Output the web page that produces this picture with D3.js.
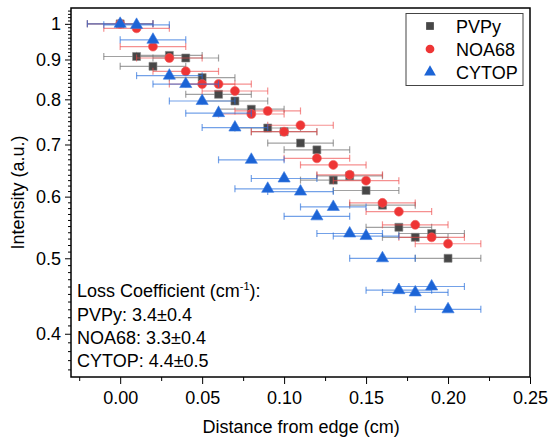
<!DOCTYPE html>
<html>
<head>
<meta charset="utf-8">
<script src="https://cdn.jsdelivr.net/npm/d3@7"></script>
<style>
  body { margin: 0; background: #fff; }
  svg { font-family: "Liberation Sans", Arial, sans-serif; }
</style>
</head>
<body>
<div id="chart"></div>
<script>
// data
var distance = [0, 0.01, 0.02, 0.03, 0.04, 0.05, 0.06, 0.07, 0.08, 0.09, 0.10,
                0.11, 0.12, 0.13, 0.14, 0.15, 0.16, 0.17, 0.18, 0.19, 0.20];
var pvpy  = [1.0, 0.908, 0.882, 0.911, 0.904, 0.853, 0.812, 0.796, 0.777, 0.735, 0.727,
             0.703, 0.689, 0.630, 0.638, 0.611, 0.585, 0.548, 0.532, 0.538, 0.500];
var noa68 = [1.0, 0.987, 0.935, 0.904, 0.869, 0.837, 0.837, 0.820, 0.766, 0.773, 0.727,
             0.741, 0.672, 0.659, 0.640, 0.629, 0.589, 0.574, 0.552, 0.532, 0.522];
var cytop = [1.0, 0.997, 0.954, 0.858, 0.837, 0.796, 0.768, 0.736, 0.669, 0.614, 0.633,
             0.609, 0.566, 0.582, 0.538, 0.534, 0.500, 0.455, 0.452, 0.460, 0.430];
var xErr = 0.02;
var seriesNames = ["PVPy", "NOA68", "CYTOP"];
var xTicks = [0, 0.05, 0.10, 0.15, 0.20, 0.25];
var yTicks = [0.4, 0.5, 0.6, 0.7, 0.8, 0.9, 1];
var lossLines = ["PVPy: 3.4\u00b10.4", "NOA68: 3.3\u00b10.4", "CYTOP: 4.4\u00b10.5"];

var W = 552, H = 446;
var margin = {top: 8, right: 22, bottom: 69, left: 71};
var width = W - margin.left - margin.right;
var height = H - margin.top - margin.bottom;

var svg = d3.select("#chart").append("svg")
    .attr("width", W).attr("height", H);
var g = svg.append("g")
    .attr("transform", "translate(" + margin.left + "," + margin.top + ")");

var x = d3.scaleLinear().domain([-0.03, 0.25]).range([0, width]);
var y = d3.scaleLog().domain([0.352, 1.048]).range([height, 0]);

// axes
var xMinor = d3.range(-0.025, 0.251, 0.05);
var yMinor = d3.range(36, 105).map(function(d){ return d / 100; })
    .filter(function(d){ return yTicks.every(function(t){ return Math.abs(t - d) > 1e-6; }); });

g.append("g").attr("transform", "translate(0," + height + ")")
    .call(d3.axisBottom(x).tickValues(xTicks).tickFormat(d3.format(".2f")).tickSize(7).tickPadding(7));
g.append("g").attr("transform", "translate(0," + height + ")")
    .call(d3.axisBottom(x).tickValues(xMinor).tickFormat("").tickSize(4));

g.append("g")
    .call(d3.axisLeft(y).tickValues(yTicks).tickFormat(function(d){ return d === 1 ? "1" : d3.format(".1f")(d); }).tickSize(6).tickPadding(4));
g.append("g")
    .call(d3.axisLeft(y).tickValues(yMinor).tickFormat("").tickSize(3));

g.selectAll(".tick text").style("font-size", "18px").attr("fill", "#000");
g.selectAll(".tick line").attr("stroke", "#000").attr("stroke-width", 1);
g.selectAll(".domain").remove();

// frame
g.append("rect")
    .attr("x", 0).attr("y", 0).attr("width", width).attr("height", height)
    .attr("fill", "none").attr("stroke", "#000").attr("stroke-width", 1.5);

// series
var colors = {PVPy: "#474747", NOA68: "#ee3535", CYTOP: "#1c64d6"};
var barColors = {PVPy: "rgba(110,110,110,0.65)", NOA68: "rgba(238,70,70,0.6)", CYTOP: "rgba(40,110,220,0.65)"};
var strokes = {PVPy: "#8a8a8a", NOA68: "#f06060", CYTOP: "#3a7ae0"};
var values = {PVPy: pvpy, NOA68: noa68, CYTOP: cytop};
var symbols = {PVPy: d3.symbolSquare, NOA68: d3.symbolCircle, CYTOP: d3.symbolTriangle};

seriesNames.forEach(function(name){
  var pts = distance.map(function(d, i){ return {x: d, v: values[name][i]}; });
  var sg = g.append("g");
  var bars = sg.selectAll(".bar").data(pts).enter().append("g")
      .attr("stroke", barColors[name]).attr("stroke-width", 1.2);
  bars.append("line")
      .attr("x1", function(d){ return x(d.x - xErr); })
      .attr("x2", function(d){ return x(d.x + xErr); })
      .attr("y1", function(d){ return y(d.v); })
      .attr("y2", function(d){ return y(d.v); });
  [-1, 1].forEach(function(s){
    bars.append("line")
        .attr("x1", function(d){ return x(d.x + s * xErr); })
        .attr("x2", function(d){ return x(d.x + s * xErr); })
        .attr("y1", function(d){ return y(d.v) - 3.5; })
        .attr("y2", function(d){ return y(d.v) + 3.5; });
  });
  sg.selectAll(".mark").data(pts).enter().append("path")
      .attr("d", d3.symbol().type(symbols[name]).size(64))
      .attr("transform", function(d){ return "translate(" + x(d.x) + "," + y(d.v) + ")"; })
      .attr("fill", colors[name])
      .attr("stroke", strokes[name]).attr("stroke-width", 0.6);
});

// legend
var lg = g.append("g").attr("transform", "translate(335,5.5)");
lg.append("rect").attr("width", 117).attr("height", 72)
    .attr("fill", "#fff").attr("stroke", "#444").attr("stroke-width", 1);
seriesNames.forEach(function(name, i){
  var row = lg.append("g").attr("transform", "translate(0," + (12.5 + i * 23) + ")");
  row.append("path")
      .attr("d", d3.symbol().type(symbols[name]).size(60))
      .attr("transform", "translate(24,0)")
      .attr("fill", colors[name]);
  row.append("text").attr("x", 50).attr("y", 6.5)
      .style("font-size", "18px").text(name);
});

// annotation
var ann = g.append("text").attr("x", 6).attr("y", 289).style("font-size", "18px");
ann.append("tspan").text("Loss Coefficient (cm");
ann.append("tspan").attr("dy", -7).style("font-size", "11px").text("-1");
ann.append("tspan").attr("dy", 7).text("):");
lossLines.forEach(function(t, i){
  g.append("text").attr("x", 6).attr("y", 312.5 + i * 23.2)
      .style("font-size", "18px").text(t);
});

// axis titles
svg.append("text")
    .attr("x", margin.left + x(0.1) + 17).attr("y", 433)
    .attr("text-anchor", "middle").style("font-size", "18px")
    .text("Distance from edge (cm)");
svg.append("text")
    .attr("transform", "translate(24," + (margin.top + height / 2) + ") rotate(-90)")
    .attr("text-anchor", "middle").style("font-size", "18px")
    .text("Intensity (a.u.)");
</script>
</body>
</html>
